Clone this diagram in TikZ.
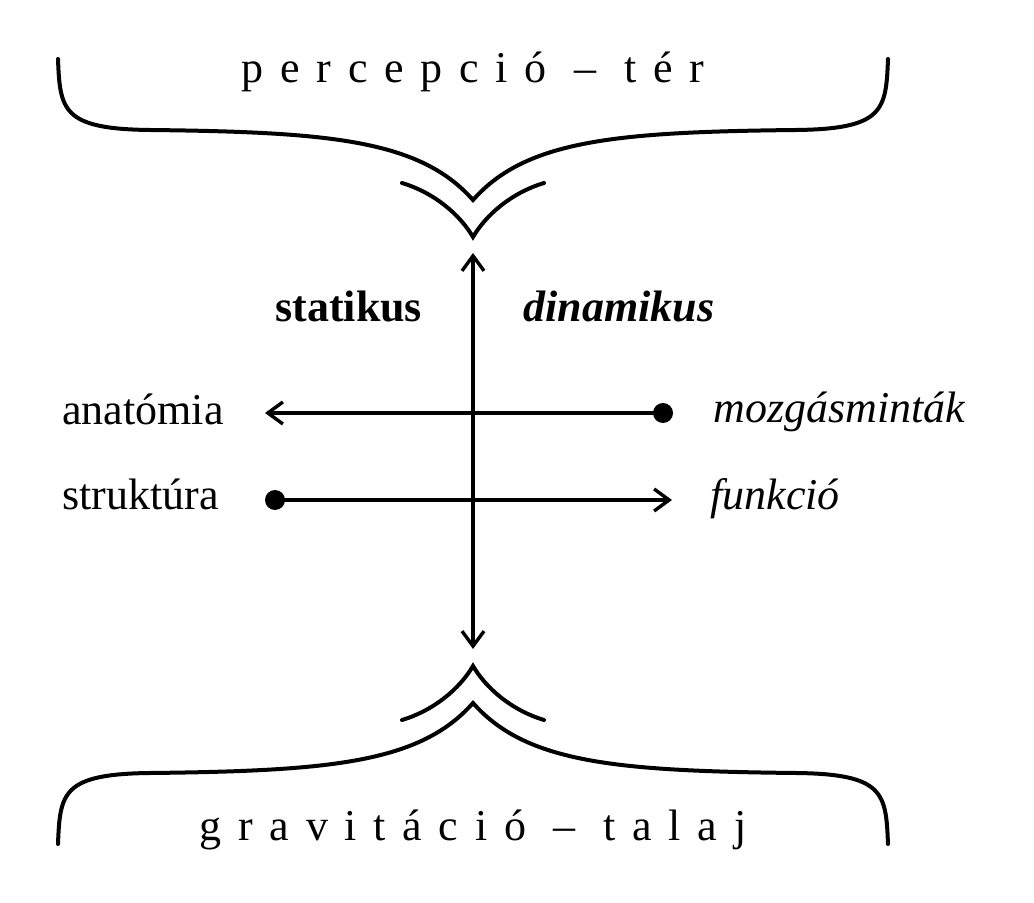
\documentclass[tikz,border=0pt]{standalone}
\usepackage{fontspec}
\setmainfont{Liberation Serif}
\newfontfamily\spacedfont[LetterSpace=38]{Liberation Serif}
\usetikzlibrary{arrows.meta}

\begin{document}
\begin{tikzpicture}[x=0.5pt,y=-0.5pt,
  every node/.style = {inner sep=0pt, font=\fontsize{22}{26}\selectfont},
  word/.style = {anchor=base west},
  title/.style = {anchor=base, font=\fontsize{22}{26}\selectfont\spacedfont},
  dot/.style = {circle, fill, minimum size=10pt},
  brace/.style = {line width=2pt, line cap=round},
  axis/.style = {line width=1.7pt},
  >={Straight Barb[length=7.5pt,width=11pt]}
  ]
  \useasboundingbox (0,0) rectangle (1034,903);

  % titles
  \node[title] (percepcio) at (473,83) {percepció – tér};
  \node[title] (gravitacio) at (473,840) {gravitáció – talaj};

  % braces
  \draw[brace] (58,59) .. controls (60,110) and (62,129) .. (150,130)
    .. controls (330,132) and (420,140) .. (473,200)
    .. controls (526,140) and (616,132) .. (796,130)
    .. controls (884,129) and (886,110) .. (888,59);
  \draw[brace] (402,183) .. controls (435,193) and (460,215) .. (473,237)
    .. controls (486,215) and (511,193) .. (544,183);
  \draw[brace] (58,844) .. controls (60,793) and (62,774) .. (150,773)
    .. controls (330,771) and (420,763) .. (473,703)
    .. controls (526,763) and (616,771) .. (796,773)
    .. controls (884,774) and (886,793) .. (888,844);
  \draw[brace] (402,720) .. controls (435,710) and (460,688) .. (473,666)
    .. controls (486,688) and (511,710) .. (544,720);

  % labels
  \node[word] (statikus) at (275,322) {\bfseries statikus};
  \node[word] (dinamikus) at (523,322) {\bfseries\itshape dinamikus};
  \node[word] (anatomia) at (62,425) {anatómia};
  \node[word] (struktura) at (62,510) {struktúra};
  \node[word] (mozgas) at (713,423) {\itshape mozgásminták};
  \node[word] (funkcio) at (710,510) {\itshape funkció};

  % axes
  \coordinate (up) at (473,253);
  \coordinate (down) at (473,649);
  \coordinate (anatend) at (265,413);
  \coordinate (funkend) at (672,500);
  \node[dot] (mozgdot) at (663,413) {};
  \node[dot] (strukdot) at (275,500) {};

  \draw[axis,<->] (down) -- (up);
  \draw[axis,->] (mozgdot.center) -- (anatend);
  \draw[axis,->] (strukdot.center) -- (funkend);
\end{tikzpicture}
\end{document}
